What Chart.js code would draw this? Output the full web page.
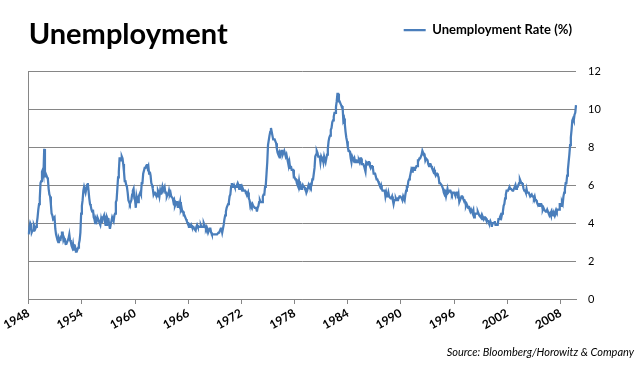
<!DOCTYPE html>
<html>
<head>
<meta charset="utf-8">
<script src="https://cdn.jsdelivr.net/npm/chart.js@4"></script>
<style>
  html, body { margin: 0; background: #fff; }
  #wrap { width: 643px; height: 371px; }
</style>
</head>
<body>
<div id="wrap"><canvas id="chart"></canvas></div>
<script>
// Monthly unemployment rate (%), Jan 1948 - Oct 2009
const rates1940s = [
  3.4, 3.8, 4.0, 3.9, 3.5, 3.6, 3.6, 3.9, 3.8, 3.7, 3.8, 4.0,
  4.3, 4.7, 5.0, 5.3, 6.1, 6.2, 6.7, 6.8, 6.6, 7.9, 6.4, 6.6
];
const rates1950s = [
  6.5, 6.4, 6.3, 5.8, 5.5, 5.4, 5.0, 4.5, 4.4, 4.2, 4.2, 4.3,
  3.7, 3.4, 3.4, 3.1, 3.0, 3.2, 3.1, 3.1, 3.3, 3.5, 3.5, 3.1,
  3.2, 3.1, 2.9, 2.9, 3.0, 3.0, 3.2, 3.4, 3.1, 3.0, 2.8, 2.7,
  2.9, 2.6, 2.6, 2.7, 2.5, 2.5, 2.6, 2.7, 2.9, 3.1, 3.5, 4.5,
  4.9, 5.2, 5.7, 5.9, 5.9, 5.6, 5.8, 6.0, 6.1, 5.7, 5.3, 5.0,
  4.9, 4.7, 4.6, 4.7, 4.3, 4.2, 4.0, 4.2, 4.1, 4.3, 4.2, 4.2,
  4.0, 3.9, 4.2, 4.0, 4.3, 4.3, 4.4, 4.1, 3.9, 3.9, 4.3, 4.2,
  4.2, 3.9, 3.7, 3.9, 4.1, 4.3, 4.2, 4.1, 4.4, 4.5, 5.1, 5.2,
  5.8, 6.4, 6.7, 7.4, 7.4, 7.3, 7.5, 7.4, 7.1, 6.7, 6.2, 6.2,
  6.0, 5.9, 5.6, 5.2, 5.1, 5.0, 5.1, 5.2, 5.5, 5.7, 5.8, 5.3
];
const rates1960s = [
  5.2, 4.8, 5.4, 5.2, 5.1, 5.4, 5.5, 5.6, 5.5, 6.1, 6.1, 6.6,
  6.6, 6.9, 6.9, 7.0, 7.1, 6.9, 7.0, 6.6, 6.7, 6.5, 6.1, 6.0,
  5.8, 5.5, 5.6, 5.6, 5.5, 5.5, 5.4, 5.7, 5.6, 5.4, 5.7, 5.5,
  5.7, 5.9, 5.7, 5.7, 5.9, 5.6, 5.6, 5.4, 5.5, 5.5, 5.7, 5.5,
  5.6, 5.4, 5.4, 5.3, 5.1, 5.2, 4.9, 5.0, 5.1, 5.1, 4.8, 5.0,
  4.9, 5.1, 4.7, 4.8, 4.6, 4.6, 4.4, 4.4, 4.3, 4.2, 4.1, 4.0,
  4.0, 3.8, 3.8, 3.8, 3.9, 3.8, 3.8, 3.8, 3.7, 3.7, 3.6, 3.8,
  3.9, 3.8, 3.8, 3.8, 3.8, 3.9, 3.8, 3.8, 3.8, 4.0, 3.9, 3.8,
  3.7, 3.8, 3.7, 3.5, 3.5, 3.7, 3.7, 3.5, 3.4, 3.4, 3.4, 3.4,
  3.4, 3.4, 3.4, 3.4, 3.4, 3.5, 3.5, 3.5, 3.7, 3.7, 3.5, 3.5
];
const rates1970s = [
  3.9, 4.2, 4.4, 4.6, 4.8, 4.9, 5.0, 5.1, 5.4, 5.5, 5.9, 6.1,
  5.9, 5.9, 6.0, 5.9, 5.9, 5.9, 6.0, 6.1, 6.0, 5.8, 6.0, 6.0,
  5.8, 5.7, 5.8, 5.7, 5.7, 5.7, 5.6, 5.6, 5.5, 5.6, 5.3, 5.2,
  4.9, 5.0, 4.9, 5.0, 4.9, 4.9, 4.8, 4.8, 4.8, 4.6, 4.8, 4.9,
  5.1, 5.2, 5.1, 5.1, 5.1, 5.4, 5.5, 5.5, 5.9, 6.0, 6.6, 7.2,
  8.1, 8.1, 8.6, 8.8, 9.0, 8.8, 8.6, 8.4, 8.4, 8.4, 8.3, 8.2,
  7.9, 7.7, 7.6, 7.7, 7.4, 7.6, 7.8, 7.8, 7.6, 7.7, 7.8, 7.8,
  7.5, 7.6, 7.4, 7.2, 7.0, 7.2, 6.9, 7.0, 6.8, 6.8, 6.8, 6.4,
  6.4, 6.3, 6.3, 6.1, 6.0, 5.9, 6.2, 5.9, 6.0, 5.8, 5.9, 6.0,
  5.9, 5.9, 5.8, 5.8, 5.6, 5.7, 5.7, 6.0, 5.9, 6.0, 5.9, 6.0
];
const rates1980s = [
  6.3, 6.3, 6.3, 6.9, 7.5, 7.6, 7.8, 7.7, 7.5, 7.5, 7.5, 7.2,
  7.5, 7.4, 7.4, 7.2, 7.5, 7.5, 7.2, 7.4, 7.6, 7.9, 8.3, 8.5,
  8.6, 8.9, 9.0, 9.3, 9.4, 9.6, 9.8, 9.8, 10.1, 10.4, 10.8, 10.8,
  10.4, 10.4, 10.3, 10.2, 10.1, 10.1, 9.4, 9.5, 9.2, 8.8, 8.5, 8.3,
  8.0, 7.8, 7.8, 7.7, 7.4, 7.2, 7.5, 7.5, 7.3, 7.4, 7.2, 7.3,
  7.3, 7.2, 7.2, 7.3, 7.2, 7.4, 7.4, 7.1, 7.1, 7.1, 7.0, 7.0,
  6.7, 7.2, 7.2, 7.1, 7.2, 7.2, 7.0, 6.9, 7.0, 7.0, 6.9, 6.6,
  6.6, 6.6, 6.6, 6.3, 6.3, 6.2, 6.1, 6.0, 5.9, 6.0, 5.8, 5.7,
  5.7, 5.7, 5.7, 5.4, 5.6, 5.4, 5.4, 5.6, 5.4, 5.4, 5.3, 5.3,
  5.4, 5.2, 5.0, 5.2, 5.2, 5.3, 5.2, 5.2, 5.3, 5.3, 5.4, 5.4
];
const rates1990s = [
  5.4, 5.3, 5.2, 5.4, 5.4, 5.2, 5.5, 5.7, 5.9, 5.9, 6.2, 6.3,
  6.4, 6.6, 6.8, 6.7, 6.9, 6.9, 6.8, 6.9, 6.9, 7.0, 7.0, 7.3,
  7.3, 7.4, 7.4, 7.4, 7.6, 7.8, 7.7, 7.6, 7.6, 7.3, 7.4, 7.4,
  7.3, 7.1, 7.0, 7.1, 7.1, 7.0, 6.9, 6.8, 6.7, 6.8, 6.6, 6.5,
  6.6, 6.6, 6.5, 6.4, 6.1, 6.1, 6.1, 6.0, 5.9, 5.8, 5.6, 5.5,
  5.6, 5.4, 5.4, 5.8, 5.6, 5.6, 5.7, 5.7, 5.6, 5.5, 5.6, 5.6,
  5.6, 5.5, 5.5, 5.6, 5.6, 5.3, 5.5, 5.1, 5.2, 5.2, 5.4, 5.4,
  5.3, 5.2, 5.2, 5.1, 4.9, 5.0, 4.9, 4.8, 4.9, 4.7, 4.6, 4.7,
  4.6, 4.6, 4.7, 4.3, 4.4, 4.5, 4.5, 4.5, 4.6, 4.5, 4.4, 4.4,
  4.3, 4.4, 4.2, 4.3, 4.2, 4.3, 4.3, 4.2, 4.2, 4.1, 4.1, 4.0
];
const rates2000s = [
  4.0, 4.1, 4.0, 3.8, 4.0, 4.0, 4.0, 4.1, 3.9, 3.9, 3.9, 3.9,
  4.2, 4.2, 4.3, 4.4, 4.3, 4.5, 4.6, 4.9, 5.0, 5.3, 5.5, 5.7,
  5.7, 5.7, 5.7, 5.9, 5.8, 5.8, 5.8, 5.7, 5.7, 5.7, 5.9, 6.0,
  5.8, 5.9, 5.9, 6.0, 6.1, 6.3, 6.2, 6.1, 6.1, 6.0, 5.8, 5.7,
  5.7, 5.6, 5.8, 5.6, 5.6, 5.6, 5.5, 5.4, 5.4, 5.5, 5.4, 5.4,
  5.3, 5.4, 5.2, 5.2, 5.1, 5.0, 5.0, 4.9, 5.0, 5.0, 5.0, 4.9,
  4.7, 4.8, 4.7, 4.7, 4.6, 4.6, 4.7, 4.7, 4.5, 4.4, 4.5, 4.4,
  4.6, 4.5, 4.4, 4.5, 4.4, 4.6, 4.7, 4.6, 4.7, 4.7, 4.7, 5.0,
  5.0, 4.9, 5.1, 5.0, 5.4, 5.6, 5.8, 6.1, 6.1, 6.5, 6.8, 7.2,
  7.6, 8.1, 8.5, 8.9, 9.4, 9.5, 9.4, 9.7, 9.8, 10.2
];

const startYear = 1948;
const tickYears = [1948, 1954, 1960, 1966, 1972, 1978, 1984, 1990, 1996, 2002, 2008];

const rates = [].concat(rates1940s, rates1950s, rates1960s, rates1970s, rates1980s, rates1990s, rates2000s);
// one category per month: "1948-01", "1948-02", ...
const months = rates.map((v, i) => (startYear + Math.floor(i / 12)) + '-' + String(i % 12 + 1).padStart(2, '0'));
const tickLabels = tickYears.map(y => y + '-01');

const lineBlue = '#4a7ebb';
const gridGray = '#868686';

Chart.defaults.font.family = "Lato, 'Open Sans', sans-serif";
Chart.defaults.color = '#000';

new Chart(document.getElementById('chart'), {
  type: 'line',
  data: {
    labels: months,
    datasets: [{
      label: 'Unemployment Rate (%)',
      data: rates,
      borderColor: lineBlue,
      backgroundColor: lineBlue,
      borderWidth: 2.25,
      pointRadius: 0,
      tension: 0
    }]
  },
  options: {
    responsive: true,
    maintainAspectRatio: false,
    animation: false,
    layout: {
      padding: { left: 28.7, right: 9, top: 19.5, bottom: 2.4 }
    },
    plugins: {
      legend: {
        position: 'top',
        align: 'end',
        fullSize: false,
        labels: {
          boxWidth: 22,
          boxHeight: 0,
          padding: 4,
          font: { size: 13, weight: 'bold' }
        }
      },
      // sits under the legend box but is pulled up into the same row
      title: {
        display: true,
        text: 'Unemployment',
        align: 'start',
        weight: 500,
        font: { size: 29, weight: 'bold' },
        padding: { top: -29.3, bottom: 19 }
      },
      subtitle: {
        display: true,
        text: 'Source: Bloomberg/Horowitz & Company',
        position: 'bottom',
        align: 'end',
        font: { size: 11, style: 'italic' },
        padding: { top: 10, bottom: 10 }
      },
      tooltip: { enabled: false }
    },
    scales: {
      x: {
        grid: {
          color: c => c.index === 0 ? gridGray : 'transparent',
          tickColor: gridGray,
          tickLength: 5
        },
        border: { color: gridGray },
        ticks: {
          autoSkip: false,
          minRotation: 30,
          maxRotation: 30,
          padding: 2,
          font: { size: 12, weight: 'bold' },
          callback(value) {
            return this.getLabelForValue(value).slice(0, 4);
          }
        },
        afterBuildTicks(axis) {
          axis.ticks = axis.ticks.filter(t => tickLabels.includes(months[t.value]));
        },
        afterFit(axis) {
          axis.height = 36.4;
        }
      },
      y: {
        position: 'right',
        min: 0,
        max: 12,
        grid: { color: gridGray, drawTicks: false },
        border: { display: false },
        ticks: {
          stepSize: 2,
          padding: 12,
          font: { size: 11 }
        },
        afterFit(axis) {
          axis.width = 58;
        }
      }
    }
  }
});
</script>
</body>
</html>
